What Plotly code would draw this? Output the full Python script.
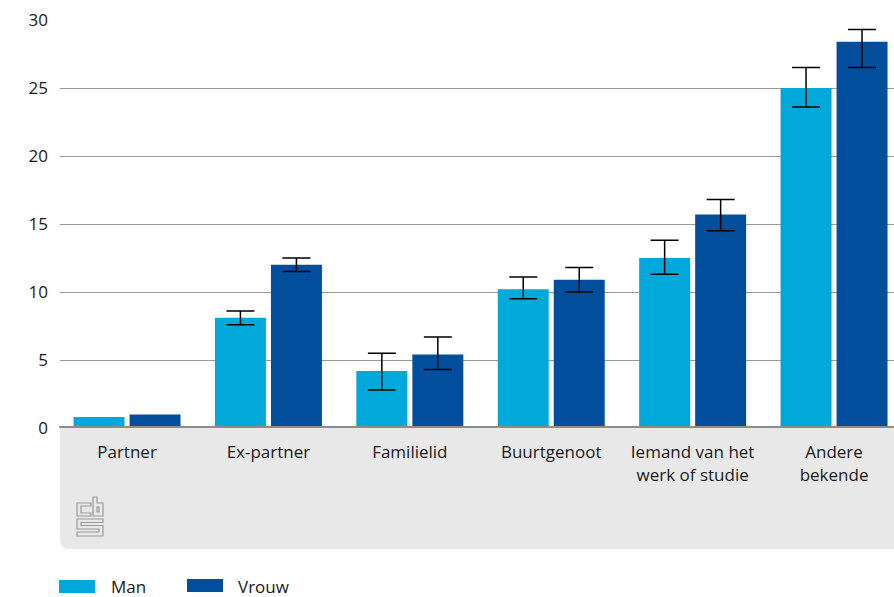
import plotly.graph_objects as go

# data
categories = ["Partner", "Ex-partner", "Familielid", "Buurtgenoot",
              "Iemand van het<br>werk of studie", "Andere<br>bekende"]
man = [0.8, 8.1, 4.2, 10.2, 12.5, 25.0]
man_low = [None, 7.6, 2.8, 9.5, 11.3, 23.6]
man_high = [None, 8.6, 5.5, 11.1, 13.8, 26.5]
vrouw = [1.0, 12.0, 5.4, 10.9, 15.7, 28.4]
vrouw_low = [None, 11.5, 4.3, 10.0, 14.5, 26.5]
vrouw_high = [None, 12.5, 6.7, 11.8, 16.8, 29.3]
y_ticks = [0, 5, 10, 15, 20, 25, 30]

C_MAN = "#00a9d9"
C_VROUW = "#004e9c"
FONT = "Open Sans"
FS = 17

W, H = 894, 597
L, R, T, B = 60, 0, 20, 169
PW, PH = W - L - R, H - T - B


def px(x, y):
    """page pixel -> paper coords"""
    return (x - L) / PW, (H - B - y) / PH


def err(vals, lo, hi):
    # "NaN" (not null) so plotly skips the bar instead of drawing a 0-length cap
    plus = ["NaN" if h is None else h - v for v, h in zip(vals, hi)]
    minus = ["NaN" if l is None else v - l for v, l in zip(vals, lo)]
    return plus, minus


m_plus, m_minus = err(man, man_low, man_high)
v_plus, v_minus = err(vrouw, vrouw_low, vrouw_high)

fig = go.Figure()
fig.add_trace(go.Bar(
    x=categories, y=man, name="Man", marker_color=C_MAN, marker_line_width=0,
    error_y=dict(type="data", symmetric=False, array=m_plus, arrayminus=m_minus,
                 color="black", thickness=1.5, width=14),
))
fig.add_trace(go.Bar(
    x=categories, y=vrouw, name="Vrouw", marker_color=C_VROUW, marker_line_width=0,
    error_y=dict(type="data", symmetric=False, array=v_plus, arrayminus=v_minus,
                 color="black", thickness=1.5, width=14),
))

shapes = []
# grey band under the axis with rounded bottom-left corner
x0, y0 = px(60, 428)
x1, y1 = px(894, 549)
rx, ry = 10 / PW, 10 / PH
shapes.append(dict(
    type="path", xref="paper", yref="paper", layer="below",
    path=f"M {x0},{y0} L {x1},{y0} L {x1},{y1} L {x0 + rx},{y1} "
         f"Q {x0},{y1} {x0},{y1 + ry} Z",
    fillcolor="#e8e8e8", line_width=0,
))
# baseline
shapes.append(dict(type="line", xref="paper", yref="y", x0=-0.001, x1=1, y0=0, y1=0,
                   line=dict(color="#8c8c8c", width=4), layer="above"))

# cbs logo, hollow letters c, b and S
logo = [
    [(91, 503), (77, 503), (77, 516), (91, 516), (91, 513), (81, 513), (81, 506), (91, 506)],
    [(93, 497), (97, 497), (97, 503), (103, 503), (103, 516), (93, 516)],
    [(97, 507), (99, 507), (99, 512), (97, 512)],
    [(103, 519), (77, 519), (77, 529), (99, 529), (99, 532), (77, 532), (77, 536), (103, 536),
     (103, 525.5), (81, 525.5), (81, 522.5), (103, 522.5)],
]
for pts in logo:
    p = [px(a, b) for a, b in pts]
    path = "M " + " L ".join(f"{a},{b}" for a, b in p) + " Z"
    shapes.append(dict(type="path", xref="paper", yref="paper", path=path,
                       line=dict(color="#9a9a9a", width=1.2)))

# legend swatches
for (a, b, c, d), col in [((59, 580, 95, 593), C_MAN), ((187, 579, 223, 592), C_VROUW)]:
    sx0, sy0 = px(a, b)
    sx1, sy1 = px(c, d)
    shapes.append(dict(type="rect", xref="paper", yref="paper", x0=sx0, y0=sy0,
                       x1=sx1, y1=sy1, fillcolor=col, line_width=0))

annotations = []
for label, (a, b) in [("Man", (109, 586)), ("Vrouw", (236, 586))]:
    ax, ay = px(a, b)
    annotations.append(dict(text=label, x=ax, y=ay, xref="paper", yref="paper",
                            xanchor="left", yanchor="middle", showarrow=False,
                            font=dict(family=FONT, size=FS, color="#1a1a1a")))

fig.update_layout(
    width=W, height=H,
    margin=dict(l=L, r=R, t=T, b=B),
    paper_bgcolor="white", plot_bgcolor="white",
    barmode="group", bargap=0.208, bargroupgap=0.09,
    showlegend=False,
    shapes=shapes, annotations=annotations,
    font=dict(family=FONT, size=FS, color="#1a1a1a"),
)
fig.update_xaxes(
    range=[-0.474, 5.424], showgrid=False, zeroline=False, showline=False,
    ticks="outside", ticklen=9, tickcolor="rgba(0,0,0,0)",
    tickfont=dict(family=FONT, size=FS, color="#1a1a1a"),
)
fig.update_yaxes(
    range=[0, 30], tickvals=y_ticks, showgrid=True, gridcolor="#999999", gridwidth=1,
    zeroline=False, showline=False, ticklabelstandoff=11,
    tickfont=dict(family=FONT, size=FS, color="#1a1a1a"),
)

fig.write_html("out.html", config={"displayModeBar": False},
               post_script="document.body.style.margin='0';")
